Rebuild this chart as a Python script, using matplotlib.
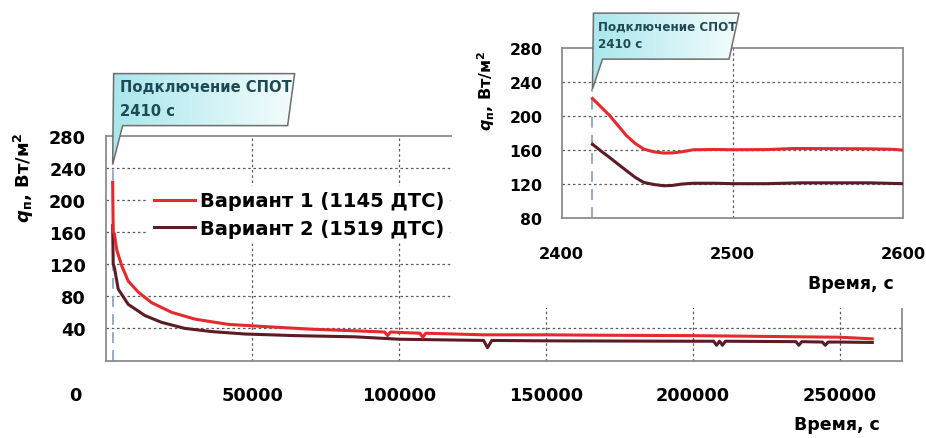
import numpy as np
import matplotlib
matplotlib.use('Agg')
from matplotlib import pyplot as plt
import matplotlib.transforms as mtransforms
from matplotlib.patches import Polygon, Rectangle

plt.rcParams['font.family'] = ['DejaVu Sans']
plt.rcParams['font.weight'] = 'bold'
plt.rcParams['mathtext.fontset'] = 'dejavusans'

# series colours
red = '#e5292c'
dark = '#5b1c26'
grid_color = '#5a5a5a'
spine_color = '#8c8c8c'

# main chart: full run (time, s / heat flux, W/m2)
t_v1 = [2418, 2600, 3000, 3800, 5500, 7700, 11200, 15700, 22500, 30500, 41800,
        53200, 70200, 85000, 95000, 96000, 97000, 100000, 107000, 108000, 109000,
        128700, 150000, 168500, 200000, 225000, 250000, 261000]
q_v1 = [222, 160, 158, 138, 118, 99, 85, 72, 60, 51.5, 45,
        42.5, 39, 37, 35.5, 31, 35.5, 35, 34, 29, 34,
        32, 32, 31.5, 31, 30, 29, 27]

t_v2 = [2418, 2600, 3000, 4300, 7700, 13400, 19100, 27000, 36200, 47500, 64600,
        85000, 100000, 128700, 130000, 131500, 150000, 200000, 207000, 208000,
        209000, 210000, 211000, 235000, 236000, 237000, 244000, 245000, 246000,
        250000, 261000]
q_v2 = [168, 120, 116, 89, 70, 56, 47.5, 40, 36, 33, 31,
        29.5, 26.5, 25, 16, 25, 24.5, 24, 24, 19,
        24, 19, 24, 23.5, 19, 23.5, 23, 19, 23,
        23, 22.5]

# inset: first 200 s after connection
ti_v1 = [2418, 2423, 2428, 2433, 2438, 2443, 2448, 2454, 2460, 2465, 2470, 2477,
         2490, 2500, 2520, 2536, 2560, 2580, 2594, 2600]
qi_v1 = [221, 211, 201, 189, 177, 168, 161.3, 158, 156.6, 156.8, 158, 160.5,
         160.8, 160.5, 160.7, 162, 161.8, 161.6, 161, 160]
ti_v2 = [2418, 2423, 2428, 2433, 2438, 2443, 2448, 2454, 2460, 2465, 2470, 2477,
         2490, 2500, 2520, 2540, 2560, 2580, 2600]
qi_v2 = [167, 159, 151.5, 143.5, 135.7, 128, 122, 119.5, 118, 118.5, 120, 121,
         121, 120.5, 120.5, 121.5, 121.5, 121.5, 120.5]

labels = ['Вариант 1 (1145 ДТС)', 'Вариант 2 (1519 ДТС)']
t_on_main = 2410
t_on_inset = 2418
callout_text = ['Подключение СПОТ', '2410 с']

ylab = r'$\mathbfit{q}_{\mathbf{п}}$, Вт/м$^{\mathbf{2}}$'
xlab = 'Время, с'


def style_axes(ax):
    for s in ax.spines.values():
        s.set_color(spine_color)
        s.set_linewidth(1.3)
    ax.tick_params(length=0)


def callout(ax, x, y, verts, lines, fsize, text_off, line_gap):
    # pixel offsets from the anchor point
    trans = mtransforms.Affine2D() + mtransforms.ScaledTranslation(x, y, ax.transData)
    poly = Polygon(verts, closed=True, transform=trans, facecolor='#d2f3f4',
                   edgecolor='none', clip_on=False, zorder=10)
    ax.add_patch(poly)
    # gradient fill clipped to the shape
    grad = np.linspace(0, 1, 64).reshape(1, -1)
    xs = [v[0] for v in verts]; ys = [v[1] for v in verts]
    cmap = matplotlib.colors.LinearSegmentedColormap.from_list('cl', ['#a9e7ec', '#f4fcfc'])
    im = ax.imshow(grad, cmap=cmap, aspect='auto', transform=trans,
                   extent=(min(xs), max(xs), min(ys), max(ys)), zorder=10.5,
                   interpolation='bilinear')
    im.set_clip_box(fig.bbox)
    im.set_clip_path(poly)
    edge = Polygon(verts, closed=True, transform=trans, facecolor='none',
                   edgecolor='#6e6e6e', linewidth=1.1, clip_on=False, zorder=11)
    ax.add_patch(edge)
    for i, txt in enumerate(lines):
        ax.annotate(txt, xy=(x, y), xytext=(text_off[0], text_off[1] - i * line_gap),
                    textcoords='offset pixels', ha='left', va='baseline',
                    fontsize=fsize, color='#1d4a55', fontweight='bold',
                    zorder=12, annotation_clip=False)


fig = plt.figure(figsize=(9.26, 4.39), dpi=100)

# ---- main chart
ax = fig.add_axes([0.1140, 0.1765, 0.8597, 0.5121])
ax.set_zorder(0)
style_axes(ax)
ax.set_xlim(0, 271000)
ax.set_ylim(0, 280)
ax.set_yticks([40, 80, 120, 160, 200, 240, 280])
ax.set_xticks([0, 50000, 100000, 150000, 200000, 250000])
ax.tick_params(axis='y', labelsize=12.7, pad=14)
ax.tick_params(axis='x', labelsize=12.7, pad=18)
for y in [40, 80, 120, 160, 200, 240]:
    ax.axhline(y, color=grid_color, lw=0.9, ls=(0, (2, 2.2)), zorder=1)
for x in [50000, 100000, 150000, 200000, 250000]:
    ax.axvline(x, color=grid_color, lw=0.9, ls=(0, (2, 2.2)), zorder=1)

# move the "0" label left like the original
lbl0 = ax.get_xticklabels()[0]
lbl0.set_transform(lbl0.get_transform() +
                   mtransforms.ScaledTranslation(-0.30, 0, fig.dpi_scale_trans))

ax.axvline(t_on_main, ymax=244 / 280, color='#8aa6c4', lw=1.3, ls=(0, (6, 4)), zorder=2)
l1, = ax.plot(t_v1, q_v1, color=red, lw=2.2, zorder=4)
l2, = ax.plot(t_v2, q_v2, color=dark, lw=2.2, zorder=3)

ax.set_ylabel(ylab, fontsize=13, fontweight='bold')
ax.yaxis.set_label_coords(-0.087, 0.816)
ax.set_xlabel(xlab, fontsize=12.5, fontweight='bold')
ax.xaxis.set_label_coords(0.919, -0.242)

leg = ax.legend([l1, l2], labels, loc='center left', frameon=True,
                bbox_to_anchor=(148 / 926, 1 - 215.5 / 439), bbox_transform=fig.transFigure,
                borderpad=0.3, borderaxespad=0, handlelength=2.1, handletextpad=0.25,
                labelspacing=0.42, prop={'size': 14, 'weight': 'bold'},
                fancybox=False, framealpha=1)
leg.get_frame().set_facecolor('white')
leg.get_frame().set_edgecolor('none')
leg.set_zorder(6)

callout(ax, t_on_main, 244,
        [(1, 91), (182, 91), (175, 39), (10, 39), (0, 0)],
        callout_text, 10.6, (7.7, 73.3), 23.3)

# white area behind the inset
fig.add_artist(Rectangle((0.488, 0.296), 0.52, 0.71, transform=fig.transFigure,
                         facecolor='white', edgecolor='none', zorder=1))

# ---- inset
axi = fig.add_axes([0.6066, 0.5011, 0.3689, 0.3863])
axi.set_zorder(2)
style_axes(axi)
axi.set_xlim(2400, 2600)
axi.set_ylim(80, 280)
axi.set_yticks([80, 120, 160, 200, 240, 280])
axi.set_xticks([2400, 2500, 2600])
axi.tick_params(axis='y', labelsize=11.3, pad=14)
axi.tick_params(axis='x', labelsize=11.7, pad=20)
for y in [120, 160, 200, 240]:
    axi.axhline(y, color=grid_color, lw=0.9, ls=(0, (2, 2.2)), zorder=1)
axi.axvline(2500, color=grid_color, lw=0.9, ls=(0, (2, 2.2)), zorder=1)
axi.axvline(t_on_inset, ymax=(232 - 80) / 200, color='#8aa6c4', lw=1.3,
            ls=(0, (6, 4)), zorder=2)
axi.plot(ti_v1, qi_v1, color=red, lw=2.2, zorder=4)
axi.plot(ti_v2, qi_v2, color=dark, lw=2.2, zorder=3)

axi.set_ylabel(ylab, fontsize=11.5, fontweight='bold')
axi.yaxis.set_label_coords(-0.19, 0.76)
axi.set_xlabel(xlab, fontsize=12.5, fontweight='bold')
axi.xaxis.set_label_coords(0.847, -0.33)

callout(axi, t_on_inset, 232,
        [(1, 76), (146.6, 76), (136.6, 30), (10, 30), (0, 0)],
        callout_text, 8.6, (5.3, 60), 18.3)

axi.set_xlim(2400, 2600)
axi.set_ylim(80, 280)
ax.set_xlim(0, 271000)
ax.set_ylim(0, 280)

fig.savefig('out.png', dpi=100)
